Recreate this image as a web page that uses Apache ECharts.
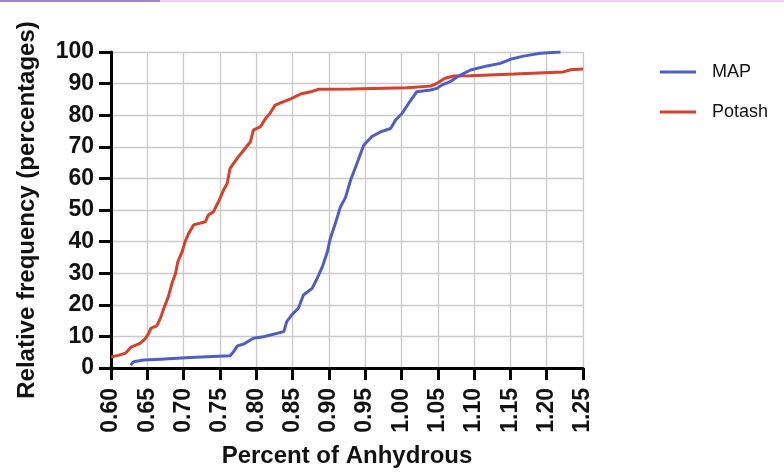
<!DOCTYPE html>
<html>
<head>
<meta charset="utf-8">
<script src="https://cdn.jsdelivr.net/npm/echarts@6/dist/echarts.min.js"></script>
<style>html,body{margin:0;padding:0;background:#fff;}#c{width:784px;height:472px;}</style>
</head>
<body>
<div id="c"></div>
<script>
var seriesNames = ['MAP', 'Potash'];
var mapX = [0.627,0.631,0.645,0.668,0.709,0.764,0.769,0.774,0.783,0.796,0.810,0.838,0.842,0.849,0.858,0.865,0.877,0.884,0.891,0.898,0.902,0.909,0.916,0.923,0.930,0.937,0.943,0.948,0.959,0.971,0.985,0.992,1.001,1.010,1.021,1.040,1.049,1.056,1.067,1.077,1.095,1.118,1.136,1.150,1.168,1.191,1.219];
var mapY = [0.9,2,2.5,2.8,3.3,3.9,5.2,7,7.6,9.4,9.9,11.5,14.7,16.8,18.9,23.1,25.2,28.4,32,36.8,41,45.8,51,54,59.5,63.7,67.4,70.5,73.2,74.7,75.8,78.5,80.6,83.8,87.4,88,88.5,89.6,90.6,92.2,94.3,95.6,96.4,97.7,98.7,99.6,100];
var potashX = [0.600,0.610,0.620,0.627,0.640,0.647,0.652,0.655,0.663,0.668,0.672,0.679,0.684,0.689,0.692,0.698,0.702,0.707,0.714,0.730,0.734,0.741,0.748,0.755,0.760,0.764,0.774,0.783,0.792,0.796,0.806,0.813,0.819,0.826,0.838,0.849,0.861,0.875,0.886,0.930,1.008,1.040,1.049,1.060,1.072,1.095,1.155,1.223,1.233,1.250];
var potashY = [3.5,4.0,4.7,6.5,7.8,9.2,11,12.6,13.3,15.7,18.4,22.6,26.8,30,33.6,36.8,40,42.6,45.3,46.3,48.4,49.4,52.6,56.3,58.4,63.2,66.4,69,71.6,75.3,76.4,79,80.6,83.2,84.3,85.3,86.7,87.4,88.2,88.3,88.7,89.2,90.1,91.7,92.4,92.5,93,93.7,94.4,94.6];
var xTicks = ['0.60','0.65','0.70','0.75','0.80','0.85','0.90','0.95','1.00','1.05','1.10','1.15','1.20','1.25'];
var yTicks = [0,10,20,30,40,50,60,70,80,90,100];

function pairs(xs, ys) { return xs.map(function (x, i) { return [x, ys[i]]; }); }

var font = '"Liberation Sans", Arial, sans-serif';
var chart = echarts.init(document.getElementById('c'), null, {renderer: 'canvas'});
chart.setOption({
  animation: false,
  backgroundColor: '#fff',
  graphic: [
    {type: 'rect', shape: {x: 0, y: 0, width: 160, height: 2}, style: {fill: '#a585c8'}},
    {type: 'rect', shape: {x: 160, y: 0, width: 624, height: 2}, style: {fill: '#efcdf6'}}
  ],
  grid: {left: 111, right: 201, top: 52, bottom: 104, containLabel: false, outerBoundsMode: 'none'},
  legend: {
    orient: 'vertical', left: 655, top: 58, itemWidth: 36, itemHeight: 3, itemGap: 22,
    icon: 'rect',
    data: seriesNames,
    textStyle: {fontFamily: font, fontSize: 18, color: '#111', padding: [0, 0, 0, 11]}
  },
  xAxis: {
    type: 'value', min: 0.60, max: 1.25, interval: 0.05,
    name: 'Percent of Anhydrous', nameLocation: 'middle', nameGap: 76,
    nameTextStyle: {fontFamily: font, fontSize: 24, fontWeight: 'bold', color: '#111'},
    axisLine: {show: true, onZero: false, lineStyle: {color: '#000', width: 3}},
    axisTick: {show: true, length: 12, lineStyle: {color: '#000', width: 3}},
    axisLabel: {rotate: 90, fontFamily: font, fontSize: 23, fontWeight: 'bold', color: '#111', margin: 20,
      formatter: function (v) { var s = v.toFixed(2); return xTicks.indexOf(s) >= 0 ? s : ''; }},
    splitLine: {show: true, lineStyle: {color: '#c9c9c9', width: 1.3}}
  },
  yAxis: {
    type: 'value', min: 0, max: 100, interval: 10,
    name: 'Relative frequency (percentages)', nameLocation: 'middle', nameGap: 72,
    nameTextStyle: {fontFamily: font, fontSize: 24, fontWeight: 'bold', color: '#111'},
    axisLine: {show: true, onZero: false, lineStyle: {color: '#000', width: 3}},
    axisTick: {show: true, length: 12, lineStyle: {color: '#000', width: 3}},
    axisLabel: {fontFamily: font, fontSize: 23, fontWeight: 'bold', color: '#111', margin: 17,
      formatter: function (v) { return yTicks.indexOf(v) >= 0 ? String(v) : ''; }},
    splitLine: {show: true, lineStyle: {color: '#c9c9c9', width: 1.3}}
  },
  series: [
    {name: seriesNames[0], type: 'line', symbol: 'none', data: pairs(mapX, mapY),
     lineStyle: {color: '#4f5ec2', width: 3}, itemStyle: {color: '#4f5ec2'}, z: 3},
    {name: seriesNames[1], type: 'line', symbol: 'none', data: pairs(potashX, potashY),
     lineStyle: {color: '#d4412c', width: 3}, itemStyle: {color: '#d4412c'}, z: 2}
  ]
});
</script>
</body>
</html>
